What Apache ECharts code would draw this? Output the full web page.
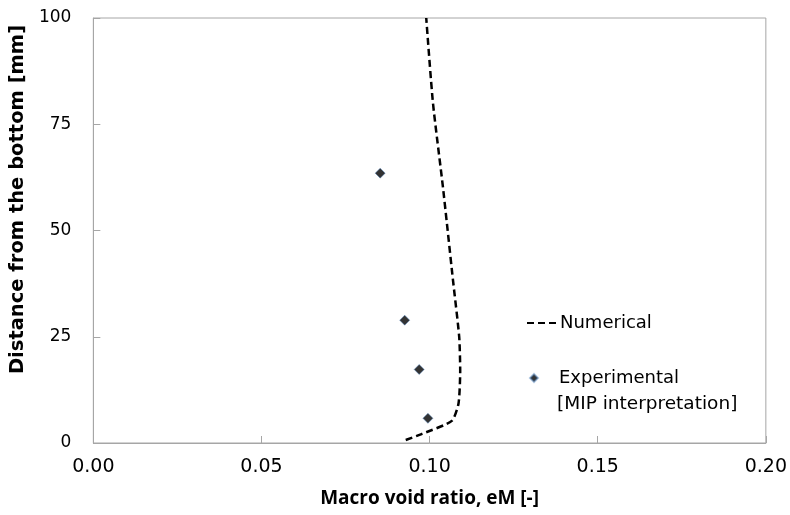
<!DOCTYPE html>
<html>
<head>
<meta charset="utf-8">
<script src="https://cdn.jsdelivr.net/npm/echarts@6/dist/echarts.min.js"></script>
<style>
  html, body { margin: 0; padding: 0; background: #fff; }
  #chart { width: 790px; height: 515px; }
</style>
</head>
<body>
<div id="chart"></div>
<script>
// numerical profile: [void ratio, distance]
var numericalX = [0.0929, 0.0976, 0.1066, 0.1086, 0.1091, 0.1088, 0.1069, 0.1040, 0.1010, 0.0990];
var numericalY = [0.7, 2.1, 5.2, 9.3, 17, 25, 38.7, 60, 80, 100];
// experimental points (MIP)
var experimentalX = [0.0853, 0.0926, 0.0969, 0.0995];
var experimentalY = [63.5, 28.9, 17.3, 5.8];

var xTicks = [0, 0.05, 0.1, 0.15, 0.2];
var yTicks = [0, 25, 50, 75, 100];

var font = "DejaVu Sans";
var axisGray = "#a6a6a6";

function pairs(xs, ys) {
  return xs.map(function (x, i) { return [x, ys[i]]; });
}

var chart = echarts.init(document.getElementById("chart"));
chart.setOption({
  animation: false,
  grid: {
    left: 91, right: 21, top: 18, bottom: 72,
    show: true, borderColor: axisGray, borderWidth: 1
  },
  legend: [
    {
      data: [{ name: "Numerical", itemStyle: { opacity: 0 } }],
      left: 526, top: 314, padding: 0,
      itemWidth: 30, itemHeight: 14,
      textStyle: { fontFamily: font, fontSize: 18, color: "#000", padding: [0, 0, 0, -2] }
    },
    {
      data: ["Experimental"],
      left: 529, top: 369, padding: 0,
      itemWidth: 8, itemHeight: 8,
      textStyle: { fontFamily: font, fontSize: 18, color: "#000", padding: [0, 0, 0, 16] }
    }
  ],
  graphic: [
    {
      type: "text", x: 557, y: 404,
      style: { text: "[MIP interpretation]", font: "18.5px 'DejaVu Sans'", fill: "#000", verticalAlign: "middle" }
    }
  ],
  xAxis: {
    type: "value",
    min: xTicks[0], max: xTicks[xTicks.length - 1], interval: 0.05,
    name: "Macro void ratio, eM [-]",
    nameLocation: "middle", nameGap: 46,
    nameTextStyle: { fontFamily: "Open Sans", fontSize: 19, fontWeight: "bold", color: "#000" },
    axisLine: { lineStyle: { color: axisGray } },
    axisTick: { inside: true, length: 7, lineStyle: { color: axisGray } },
    splitLine: { show: false },
    axisLabel: {
      margin: 15, fontFamily: font, fontSize: 19, color: "#000",
      formatter: function (v) { return v.toFixed(2); }
    }
  },
  yAxis: {
    type: "value",
    min: yTicks[0], max: yTicks[yTicks.length - 1], interval: 25,
    name: "Distance from the bottom [mm]",
    nameLocation: "middle", nameGap: 50,
    nameTextStyle: { fontFamily: font, fontSize: 19.5, fontWeight: "bold", color: "#000", padding: [0, 0, 0, 62] },
    axisLine: { show: true, lineStyle: { color: axisGray } },
    axisTick: { show: true, inside: true, length: 7, lineStyle: { color: axisGray } },
    splitLine: { show: false },
    axisLabel: { margin: 22, fontFamily: font, fontSize: 17, color: "#000" }
  },
  series: [
    {
      name: "Numerical",
      type: "line",
      data: pairs(numericalX, numericalY),
      symbol: "none",
      smooth: 0.2,
      lineStyle: { color: "#000", width: 2.5, type: [7, 4] },
      itemStyle: { color: "#000" }
    },
    {
      name: "Experimental",
      type: "scatter",
      data: pairs(experimentalX, experimentalY),
      symbol: "diamond",
      symbolSize: 10,
      itemStyle: { color: "#000", borderColor: "rgba(79,129,189,0.6)", borderWidth: 1 }
    }
  ]
});
</script>
</body>
</html>
